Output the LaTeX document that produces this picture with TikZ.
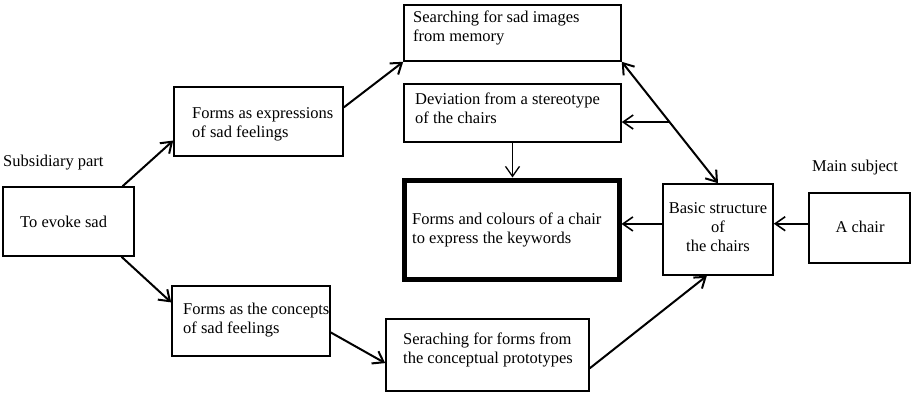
\documentclass[tikz,border=0pt]{standalone}
\usepackage{fontspec}
\setmainfont{Liberation Serif}
\usetikzlibrary{arrows.meta,calc}
\begin{document}
\begin{tikzpicture}[x=1pt,y=-1pt,
  >={Straight Barb[length=10pt,width=14pt]},
  box/.style={draw, line width=1.6pt, inner sep=0pt},
  keybox/.style={draw, line width=5pt, inner sep=0pt},
  txt/.style={inner sep=0pt, align=left, font=\fontsize{16.5}{19}\selectfont},
  ctxt/.style={txt, align=center},
  link/.style={line width=2pt, ->},
  flat/.style={line width=1.6pt, ->}]
\useasboundingbox (0,0) rectangle (913,392);

% boxes
\node[box, minimum width=131pt, minimum height=69pt] (evoke) at (68.5,221.5) {};
\node[box, minimum width=169pt, minimum height=69pt] (expr) at (258.5,121.5) {};
\node[box, minimum width=217pt, minimum height=56pt] (search) at (512.5,33) {};
\node[box, minimum width=217pt, minimum height=58pt] (dev) at (512.5,113) {};
\node[keybox, minimum width=215pt, minimum height=99pt] (key) at (511.5,229.5) {};
\node[box, minimum width=110pt, minimum height=91pt] (basic) at (718,229.5) {};
\node[box, minimum width=101pt, minimum height=70pt] (chair) at (859.5,228) {};
\node[box, minimum width=158pt, minimum height=70pt] (concept) at (251,321) {};
\node[box, minimum width=203pt, minimum height=72pt] (proto) at (487.5,355) {};

% texts
\node[txt, anchor=west] (tevoke) at (20,222) {To evoke sad};
\node[txt, anchor=west] (texpr) at (192,124) {Forms as expressions\\of sad feelings};
\node[txt, anchor=west] (tsearch) at (413,28) {Searching for sad images\\from memory};
\node[txt, anchor=west] (tdev) at (415,108) {Deviation from a stereotype\\of the chairs};
\node[txt, anchor=west] (tkey) at (412,230) {Forms and colours of a chair\\to express the keywords};
\node[ctxt] (tbasic) at (718,227) {Basic structure\\of\\the chairs};
\node[ctxt] (tchair) at (860,227) {A chair};
\node[txt, anchor=west] (tconcept) at (183,320) {Forms as the concepts\\of sad feelings};
\node[txt, anchor=west] (tproto) at (403,350) {Seraching for forms from\\the conceptual prototypes};
\node[txt, anchor=west] (sub) at (3,163) {Subsidiary part};
\node[ctxt] (mainsub) at (855,168) {Main subject};

% connectors
\draw[link] ($(evoke.north west)!0.908!(evoke.north east)$) -- ($(expr.north west)!0.77!(expr.south west)$);
\draw[link] ($(expr.north east)!0.30!(expr.south east)$) -- (search.south west);
\draw[link] ($(evoke.south west)!0.90!(evoke.south east)$) -- ($(concept.north west)!0.24!(concept.south west)$);
\draw[link] ($(concept.north east)!0.66!(concept.south east)$) -- ($(proto.north west)!0.61!(proto.south west)$);
\draw[link] ($(proto.north east)!0.68!(proto.south east)$) -- ($(basic.south west)!0.40!(basic.south east)$);
\draw[link, <->] (search.south east) -- (basic.north);
\coordinate (j) at ($(search.south east)!0.496!(basic.north)$);
\draw[flat] (j) -- (j -| dev.east);
\draw[line width=1.3pt, ->] (dev.south) -- (dev.south |- key.north);
\coordinate (bw) at ($(basic.north west)!0.44!(basic.south west)$);
\draw[flat] (bw) -- (bw -| key.east);
\coordinate (cw) at ($(chair.north west)!0.44!(chair.south west)$);
\draw[flat] (cw) -- (cw -| basic.east);
\end{tikzpicture}
\end{document}
